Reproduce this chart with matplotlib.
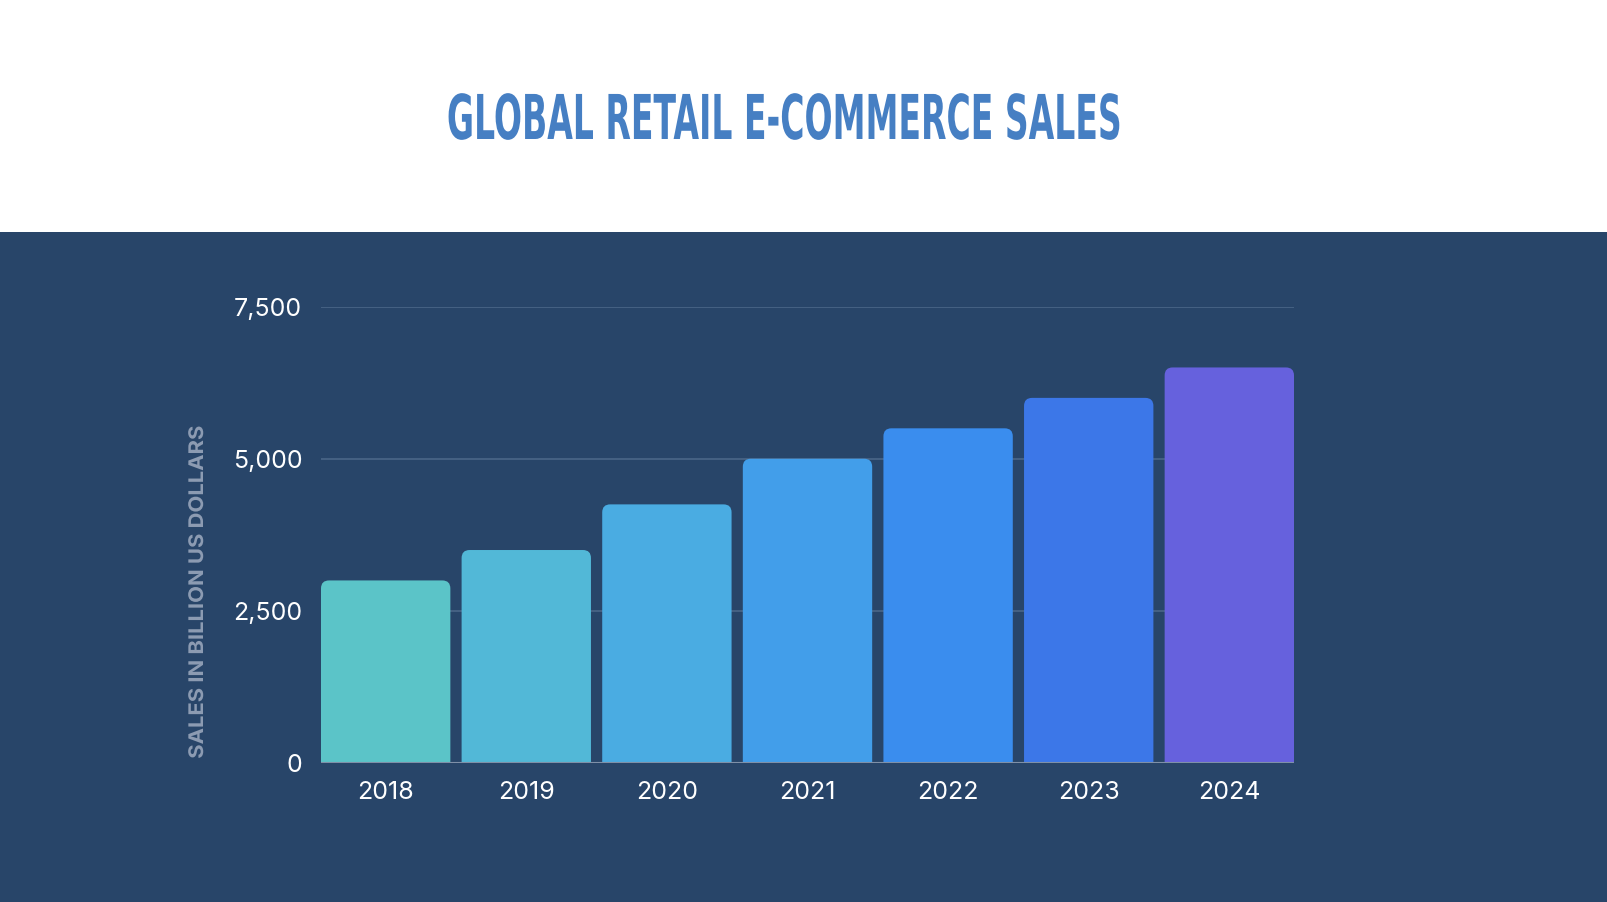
import matplotlib
matplotlib.use("Agg")
import matplotlib.pyplot as plt
from matplotlib.patches import FancyBboxPatch, Rectangle
from matplotlib.patheffects import AbstractPathEffect
from matplotlib.transforms import Affine2D

# data
years = ["2018", "2019", "2020", "2021", "2022", "2023", "2024"]
sales = [3000, 3500, 4250, 5000, 5500, 6000, 6500]
bar_colors = ["#5bc4c8", "#52b8d7", "#4aace2", "#429eea", "#3a8dee", "#3c77e8", "#6661dd"]
yticks = [0, 2500, 5000, 7500]
ytick_labels = ["0", "2,500", "5,000", "7,500"]

bg = "#284569"
W, H = 1608, 902


class Squeeze(AbstractPathEffect):
    # scale the glyph outlines about a point (display px), text stays text
    def __init__(self, sx, sy, cx, cy):
        super().__init__()
        self.t = Affine2D().translate(-cx, -cy).scale(sx, sy).translate(cx, cy)

    def draw_path(self, renderer, gc, tpath, affine, rgbFace=None):
        renderer.draw_path(gc, tpath, affine + self.t, rgbFace)


fig = plt.figure(figsize=(W / 100, H / 100), dpi=100)
fig.patch.set_facecolor("white")

# dark panel under the title
fig.patches.append(Rectangle((0, 0), 1, (H - 232) / H, transform=fig.transFigure,
                             facecolor=bg, edgecolor="none", zorder=-5))

fig.text(784 / W, (H - 122) / H, "GLOBAL RETAIL E-COMMERCE SALES",
         ha="center", va="center", color="#467fc3", fontsize=44.5,
         family="DejaVu Sans", fontweight="bold",
         path_effects=[Squeeze(0.535, 1.0, 784, H - 122)])

ax = fig.add_axes([321 / W, (H - 763) / H, (1294 - 321) / W, (763 - 306.6) / H])
ax.set_facecolor("none")
ax.set_zorder(2)

bw = 0.92
ax.set_xlim(-bw / 2, len(years) - 1 + bw / 2)
ax.set_ylim(0, 7500)

# px per data unit, for round corners
px_x = (1294 - 321) / (len(years) - 1 + bw)
px_y = (763 - 306.6) / 7500
r = 8
rx = r / px_x
aspect = (r / px_y) / rx

for i, (v, c) in enumerate(zip(sales, bar_colors)):
    # box runs below zero so the bottom corners get clipped away
    ax.add_patch(FancyBboxPatch((i - bw / 2, -v), bw, 2 * v,
                                boxstyle=f"round,pad=0,rounding_size={rx}",
                                mutation_aspect=aspect, facecolor=c,
                                edgecolor="none", zorder=3))

for yv in yticks[1:]:
    ax.axhline(yv, color="#4a6688", lw=1.2, zorder=1)
ax.axhline(0, color="#7f90a8", lw=1.5, zorder=4)

ax.set_yticks(yticks)
ax.set_yticklabels(ytick_labels)
ax.set_xticks(range(len(years)))
ax.set_xticklabels(years)
ax.tick_params(axis="both", length=0, colors="white", labelsize=18)
ax.tick_params(axis="y", pad=13.5)
ax.tick_params(axis="x", pad=13)
for lab in ax.get_xticklabels() + ax.get_yticklabels():
    lab.set_family("Inter")
for s in ax.spines.values():
    s.set_visible(False)

fig.text(198 / W, (H - 592) / H, "SALES IN BILLION US DOLLARS",
         rotation=90, ha="center", va="center", color="#8c9bb2",
         fontsize=14.5, fontweight="bold", family="Inter",
         path_effects=[Squeeze(1.0, 1.09, 198, H - 592)])

fig.savefig("out.png", dpi=100, facecolor=fig.get_facecolor())
